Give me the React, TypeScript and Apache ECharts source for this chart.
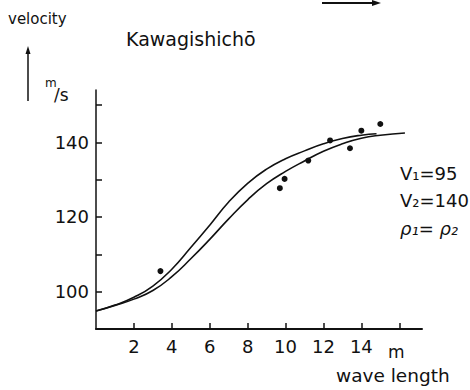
import React, { useEffect, useRef } from "react";
import * as echarts from "echarts";

const xTickValues = [2, 4, 6, 8, 10, 12, 14, 16];
const xLabelValues = [2, 4, 6, 8, 10, 12, 14, 16];
const yTickValues = [100, 110, 120, 130, 140, 150];
const yLabelValues = [100, 120, 140];

const upperX = [0, 1, 2, 3, 4, 5, 6, 7, 8, 9, 10, 11, 12, 13, 14, 14.8];
const upperY = [94.8, 96.4, 98.5, 101.5, 106.0, 111.8, 117.8, 124.0, 129.0, 132.8, 135.6, 137.7, 139.6, 141.0, 141.9, 142.3];

const lowerX = [0, 1, 2, 3, 4, 5, 6, 7, 8, 9, 10, 11, 12, 13, 14, 15, 16.3];
const lowerY = [94.8, 96.3, 98.0, 100.3, 104.0, 108.8, 114.0, 119.5, 124.6, 128.9, 132.2, 135.0, 137.6, 139.6, 141.1, 141.9, 142.5];

const obsX = [3.4, 9.7, 9.95, 11.2, 12.35, 13.4, 14.0, 15.0];
const obsY = [105.5, 127.7, 130.2, 135.1, 140.5, 138.4, 143.1, 144.9];

const FONT = "DejaVu Sans";
const INK = "#111";

export default function App() {
  const ref = useRef<HTMLDivElement>(null);
  useEffect(() => {
    if (!ref.current) return;
    const chart = echarts.init(ref.current, undefined, { renderer: "svg" });
    const pairs = (xs: number[], ys: number[]) => xs.map((x, i) => [x, ys[i]]);
    chart.setOption({
      animation: false,
      backgroundColor: "#fff",
      grid: { left: 96, right: 48, top: 90, bottom: 61 },
      xAxis: {
        type: "value",
        min: 0,
        max: 17.2,
        interval: 2,
        splitLine: { show: false },
        axisLine: { show: true, lineStyle: { color: INK, width: 2 } },
        axisTick: { show: true, inside: true, length: 6, customValues: xTickValues, lineStyle: { color: INK, width: 1.5 } },
        axisLabel: {
          customValues: xLabelValues,
          margin: 8,
          color: INK,
          fontFamily: FONT,
          fontSize: 18,
          formatter: (v: number) => (v === 16 ? "{u|m}" : String(v)),
          rich: { u: { fontFamily: FONT, fontSize: 17, color: INK, padding: [6, 6, 0, 0] } },
        },
      },
      yAxis: {
        type: "value",
        min: 90,
        max: 154,
        interval: 10,
        splitLine: { show: false },
        axisLine: { show: true, lineStyle: { color: INK, width: 1.5 } },
        axisTick: { show: true, inside: true, length: 6, customValues: yTickValues, lineStyle: { color: INK, width: 1.5 } },
        axisLabel: { customValues: yLabelValues, margin: 7, color: INK, fontFamily: FONT, fontSize: 18 },
      },
      series: [
        {
          type: "line",
          data: pairs(upperX, upperY),
          smooth: true,
          showSymbol: false,
          lineStyle: { color: INK, width: 1.6 },
        },
        {
          type: "line",
          data: pairs(lowerX, lowerY),
          smooth: true,
          showSymbol: false,
          lineStyle: { color: INK, width: 1.6 },
        },
        {
          type: "scatter",
          data: pairs(obsX, obsY),
          symbol: "circle",
          symbolSize: 6,
          itemStyle: { color: INK, opacity: 1 },
        },
      ],
      graphic: [
        { type: "text", left: 8, top: 11, style: { text: "velocity", fontFamily: FONT, fontSize: 15, fill: INK } },
        { type: "text", left: 126, top: 29, style: { text: "Kawagishichō", fontFamily: FONT, fontSize: 19, fill: INK } },
        { type: "line", shape: { x1: 28, y1: 101, x2: 28, y2: 52 }, style: { stroke: INK, lineWidth: 1.5 } },
        { type: "polygon", shape: { points: [[25.5, 54], [28, 46], [30.5, 54]] }, style: { fill: INK } },
        { type: "text", left: 45, top: 77, style: { text: "m", fontFamily: FONT, fontSize: 12, fill: INK } },
        { type: "text", left: 54, top: 86, style: { text: "/s", fontFamily: FONT, fontSize: 17, fill: INK } },
        { type: "line", shape: { x1: 322, y1: 3, x2: 374, y2: 3 }, style: { stroke: INK, lineWidth: 2 } },
        { type: "polygon", shape: { points: [[372, 0], [381, 3], [372, 6]] }, style: { fill: INK } },
        { type: "text", left: 400, top: 164, style: { text: "V₁=95", fontFamily: FONT, fontSize: 18, fill: INK } },
        { type: "text", left: 400, top: 191, style: { text: "V₂=140", fontFamily: FONT, fontSize: 18, fill: INK } },
        { type: "text", left: 400, top: 219, style: { text: "ρ₁= ρ₂", fontFamily: FONT, fontSize: 18, fill: INK, fontStyle: "italic" } },
        { type: "text", left: 336, top: 366, style: { text: "wave length", fontFamily: FONT, fontSize: 18.5, fill: INK } },
      ],
    });
    return () => chart.dispose();
  }, []);
  return <div ref={ref} style={{ position: "fixed", left: 0, top: 0, width: 470, height: 390 }} />;
}
